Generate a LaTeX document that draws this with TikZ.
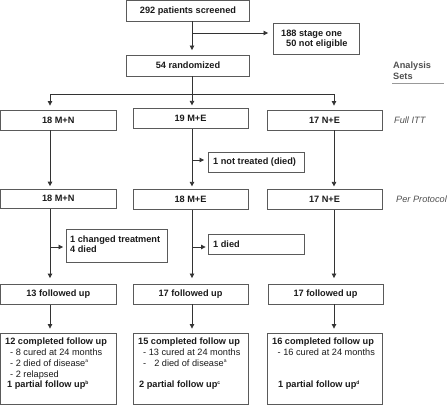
\documentclass[tikz,border=0pt]{standalone}
\usepackage{fontspec}
\setmainfont{Liberation Sans}
\usetikzlibrary{arrows.meta}
\definecolor{boxc}{HTML}{5A5A5A}
\definecolor{linec}{HTML}{333333}
\definecolor{txtc}{HTML}{1A1A1A}
\definecolor{grayt}{HTML}{505050}
\newcommand{\supx}[1]{\raisebox{3.6pt}{\fontsize{5}{5}\selectfont #1}}
\begin{document}
\begin{tikzpicture}[x=1pt,y=-1pt,
  every node/.style={text=txtc},
  boxn/.style={draw=boxc, line width=0.9pt, inner sep=0pt, font=\fontsize{9.2}{10.8}\selectfont\bfseries},
  txt/.style={inner sep=0pt, font=\fontsize{9.2}{10.8}\selectfont},
  btxt/.style={inner sep=0pt, font=\fontsize{9.2}{10.8}\selectfont\bfseries},
  side/.style={inner sep=0pt, text=grayt},
  ln/.style={draw=linec, line width=0.8pt},
  arr/.style={ln, -{Triangle[length=4.5pt,width=4.5pt]}},
]
\useasboundingbox (0,0) rectangle (447,405);

% boxes
\node[boxn, minimum width=123pt, minimum height=20.5pt] (screen) at (188,10.75) {292 patients screened};
\node[boxn, minimum width=86pt, minimum height=31pt] (excl) at (316,38.5) {};
\node[btxt, anchor=base west] (excl1) at (281,36) {188 stage one};
\node[btxt, anchor=base west] (excl2) at (286,46) {50 not eligible};
\node[boxn, minimum width=123pt, minimum height=21pt] (rand) at (188,65.5) {54 randomized};

\node[boxn, minimum width=115.5pt, minimum height=20pt] (itt1) at (58.25,120) {18 M+N};
\node[boxn, minimum width=115pt, minimum height=20pt] (itt2) at (190.5,118.3) {19 M+E};
\node[boxn, minimum width=115pt, minimum height=20pt] (itt3) at (324.5,120) {17 N+E};

\node[boxn, minimum width=96pt, minimum height=20pt] (nt) at (256,162) {};
\node[btxt, anchor=west] (nttxt) at (213,162) {1 not treated (died)};

\node[boxn, minimum width=115.5pt, minimum height=19pt] (pp1) at (58.25,198.6) {18 M+N};
\node[boxn, minimum width=115pt, minimum height=20pt] (pp2) at (190.5,199.3) {18 M+E};
\node[boxn, minimum width=115pt, minimum height=19.7pt] (pp3) at (324.5,199.2) {17 N+E};

\node[boxn, minimum width=101pt, minimum height=33pt] (ct) at (116.5,245.5) {};
\node[btxt, anchor=base west] (ct1) at (70,242.3) {1 changed treatment};
\node[btxt, anchor=base west] (ct2) at (70,252.3) {4 died};
\node[boxn, minimum width=96pt, minimum height=20pt] (d1) at (256,244) {};
\node[btxt, anchor=west] (d1txt) at (213,244) {1 died};

\node[boxn, minimum width=115.5pt, minimum height=20.3pt] (fu1) at (58.25,294.2) {13 followed up};
\node[boxn, minimum width=115pt, minimum height=20pt] (fu2) at (190.5,294) {17 followed up};
\node[boxn, minimum width=115pt, minimum height=20pt] (fu3) at (325.5,294) {17 followed up};

\node[boxn, minimum width=115.5pt, minimum height=71.5pt] (c1) at (58.25,368.75) {};
\node[boxn, minimum width=115pt, minimum height=71.5pt] (c2) at (190.5,368.75) {};
\node[boxn, minimum width=115pt, minimum height=71.5pt] (c3) at (324.5,368.75) {};

% bottom box texts
\node[btxt, anchor=base west] (c1a) at (5,344.5) {12 completed follow up};
\node[txt, anchor=base west] (c1b) at (10,355.3) {- 8 cured at 24 months};
\node[txt, anchor=base west] (c1c) at (10,366.2) {- 2 died of disease\supx{a}};
\node[txt, anchor=base west] (c1d) at (10,377) {- 2 relapsed};
\node[btxt, anchor=base west] (c1e) at (7,387.8) {1 partial follow up\supx{b}};

\node[btxt, anchor=base west] (c2a) at (138,344.5) {15 completed follow up};
\node[txt, anchor=base west] (c2b) at (143,355.3) {- 13 cured at 24 months};
\node[txt, anchor=base west] (c2c) at (143,366.2) {-\hspace*{8pt}2 died of disease\supx{a}};
\node[btxt, anchor=base west] (c2e) at (139,387.8) {2 partial follow up\supx{c}};

\node[btxt, anchor=base west] (c3a) at (272,344.5) {16 completed follow up};
\node[txt, anchor=base west] (c3b) at (277.5,355.3) {- 16 cured at 24 months};
\node[btxt, anchor=base west] (c3e) at (278,387.8) {1 partial follow up\supx{d}};

% analysis set labels
\node[side, anchor=base west, font=\fontsize{9.2}{11}\selectfont\bfseries] (as1) at (393,68.5) {Analysis};
\node[side, anchor=base west, font=\fontsize{9.2}{11}\selectfont\bfseries] (as2) at (393,79.5) {Sets};
\node[side, anchor=west, font=\fontsize{9.2}{11}\selectfont\itshape] (fitt) at (394,120) {Full ITT};
\node[side, anchor=west, font=\fontsize{9.2}{11}\selectfont\itshape] (pprot) at (396,199) {Per Protocol};
\coordinate (ul1) at (392,83.5);
\coordinate (ul2) at (444,83.5);
\draw[draw=gray!80, line width=1.4pt] (ul1) -- (ul2);

% coordinates of the connector columns
\coordinate (cm) at (192,0);
\coordinate (cl) at (50,0);
\coordinate (cr) at (334,0);
\coordinate (j1) at (192,33);
\coordinate (bl) at (50,94);
\coordinate (bm) at (192,94);
\coordinate (br) at (334,94);
\coordinate (j2) at (192,160);
\coordinate (j3) at (50,247);
\coordinate (j4) at (192,247);

% connectors
\draw[arr, shorten >=4.5pt] (screen.south -| cm) -- (rand.north -| cm);
\draw[arr, shorten >=4.5pt] (j1) -- (excl.west |- j1);
\draw[ln] (rand.south -| cm) -- (bm);
\draw[ln] (bl) -- (br);
\draw[arr, shorten >=4pt] (bl) -- (itt1.north -| bl);
\draw[arr, shorten >=2.5pt] (bm) -- (itt2.north -| bm);
\draw[arr, shorten >=4pt] (br) -- (itt3.north -| br);

\draw[arr, shorten >=2.5pt] (itt1.south -| cl) -- (pp1.north -| cl);
\draw[arr, shorten >=2.5pt] (itt2.south -| cm) -- (pp2.north -| cm);
\draw[arr, shorten >=2.5pt] (itt3.south -| cr) -- (pp3.north -| cr);
\draw[arr, shorten >=3.5pt] (j2) -- (nt.west |- j2);

\draw[arr, shorten >=5.5pt] (pp1.south -| cl) -- (fu1.north -| cl);
\draw[arr, shorten >=5.5pt] (pp2.south -| cm) -- (fu2.north -| cm);
\draw[arr, shorten >=5.5pt] (pp3.south -| cr) -- (fu3.north -| cr);
\draw[arr, shorten >=2.5pt] (j3) -- (ct.west |- j3);
\draw[arr, shorten >=2pt] (j4) -- (d1.west |- j4);

\draw[arr, shorten >=4pt] (fu1.south -| cl) -- (c1.north -| cl);
\draw[arr, shorten >=4pt] (fu2.south -| cm) -- (c2.north -| cm);
\draw[arr, shorten >=4pt] (fu3.south -| cr) -- (c3.north -| cr);
\end{tikzpicture}
\end{document}
